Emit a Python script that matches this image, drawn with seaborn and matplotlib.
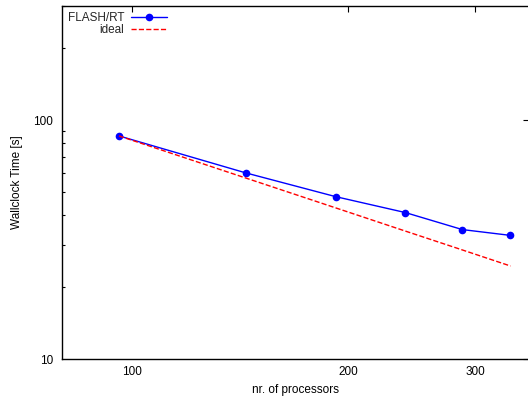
import matplotlib
matplotlib.use("Agg")
import matplotlib.pyplot as plt
import matplotlib.ticker as mticker
import seaborn as sns
import pandas as pd

# data
processors = [96, 144, 192, 240, 288, 336]
flash_rt = [85.8, 60.1, 47.8, 41.0, 34.8, 32.9]
ideal = [85.8, 57.2, 42.9, 34.3, 28.6, 24.5]
x_ticks = [100, 200, 300]
y_ticks = [10, 100]

sns.set_theme(style="white")
plt.rcParams["font.family"] = ["Liberation Sans", "DejaVu Sans"]

df = pd.DataFrame({"processors": processors + processors,
                   "time": flash_rt + ideal,
                   "series": ["FLASH/RT"] * len(processors) + ["ideal"] * len(processors)})

fig = plt.figure(figsize=(5.28, 3.99), dpi=100)
ax = fig.add_axes([62 / 528, 40 / 399, 467 / 528, 353 / 399])

sns.lineplot(data=df[df.series == "FLASH/RT"], x="processors", y="time", ax=ax,
             color="#0000ff", lw=1.0, marker="o", markersize=5.5,
             markeredgewidth=0, label="FLASH/RT")
sns.lineplot(data=df[df.series == "ideal"], x="processors", y="time", ax=ax,
             color="#ff0000", lw=1.0, dashes=(3, 2.5), linestyle="--", label="ideal")

ax.set_xscale("log")
ax.set_yscale("log")
ax.set_xlim(80, 356.5)
ax.set_ylim(10, 300)

ax.xaxis.set_major_locator(mticker.FixedLocator(x_ticks))
ax.xaxis.set_major_formatter(mticker.FixedFormatter([str(t) for t in x_ticks]))
ax.xaxis.set_minor_locator(mticker.NullLocator())
ax.yaxis.set_major_locator(mticker.FixedLocator(y_ticks))
ax.yaxis.set_major_formatter(mticker.FixedFormatter([str(t) for t in y_ticks]))
ax.yaxis.set_minor_locator(mticker.LogLocator(base=10, subs=range(2, 10)))
ax.yaxis.set_minor_formatter(mticker.NullFormatter())

ax.tick_params(which="major", direction="in", length=4.5, width=0.8, color="black",
               top=True, right=True, labelsize=8.5, labelcolor="black")
ax.tick_params(axis="y", which="major", pad=6.5)
ax.tick_params(axis="x", which="major", pad=5)
ax.tick_params(which="minor", direction="in", length=2.5, width=0.8, color="black",
               left=True, right=False)

for s in ax.spines.values():
    s.set_color("black")
    s.set_linewidth(1.0)

ax.set_xlabel("nr. of processors", fontsize=8.5, color="black", labelpad=4)
ax.set_ylabel("Wallclock Time [s]", fontsize=8.5, color="black", labelpad=7)

leg = ax.legend(loc="upper left", frameon=False, markerfirst=False, fontsize=8.5,
                handlelength=3.0, handletextpad=0.6, labelspacing=0.05,
                borderaxespad=0.3, borderpad=0.2)

fig.savefig("out.png", dpi=100)
